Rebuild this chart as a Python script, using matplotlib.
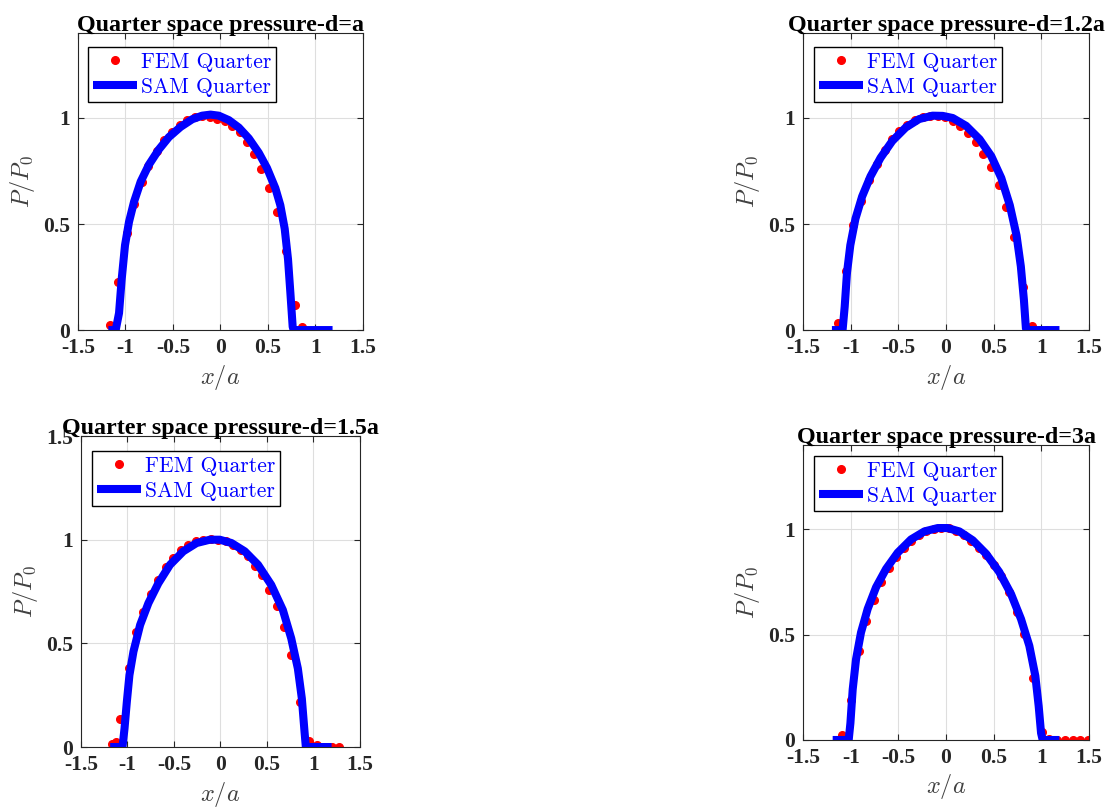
import numpy as np
import matplotlib.pyplot as plt

plt.rcParams['mathtext.fontset'] = 'cm'

titles = ["Quarter space pressure-d=a", "Quarter space pressure-d=1.2a",
          "Quarter space pressure-d=1.5a", "Quarter space pressure-d=3a"]

# FEM points (x/a, P/P0)
fem1_x = [-1.166, -1.075, -0.988, -0.91, -0.83, -0.76, -0.672, -0.595, -0.515, -0.43, -0.35, -0.27,
          -0.193, -0.112, -0.035, 0.046, 0.123, 0.203, 0.28, 0.357, 0.43, 0.508, 0.595, 0.694,
          0.781, 0.858]
fem1_y = [0.024, 0.226, 0.457, 0.594, 0.696, 0.775, 0.844, 0.895, 0.935, 0.968, 0.99, 1.003,
          1.008, 1.003, 0.995, 0.984, 0.963, 0.932, 0.889, 0.828, 0.76, 0.669, 0.557, 0.374,
          0.116, 0.013]

fem2_x = [-1.134, -1.05, -0.975, -0.89, -0.81, -0.729, -0.644, -0.57, -0.489, -0.41, -0.327,
          -0.246, -0.165, -0.088, -0.007, 0.07, 0.151, 0.232, 0.31, 0.391, 0.472, 0.553, 0.634,
          0.711, 0.81, 0.898, 0.986, 1.063]
fem2_y = [0.035, 0.279, 0.494, 0.61, 0.709, 0.785, 0.849, 0.90, 0.94, 0.968, 0.99,
          1.003, 1.011, 1.011, 1.003, 0.987, 0.963, 0.927, 0.889, 0.831, 0.768, 0.685, 0.581,
          0.438, 0.202, 0.019, 0.0, 0.0]

fem3_x = [-1.168, -1.125, -1.079, -0.989, -0.907, -0.829, -0.75, -0.668, -0.589, -0.507, -0.429,
          -0.346, -0.264, -0.186, -0.104, -0.025, 0.057, 0.136, 0.218, 0.296, 0.375, 0.45, 0.521,
          0.604, 0.682, 0.761, 0.857, 0.957, 1.036, 1.118, 1.196, 1.279]
fem3_y = [0.016, 0.024, 0.137, 0.382, 0.553, 0.65, 0.739, 0.806, 0.866, 0.911, 0.948,
          0.976, 0.992, 1.0, 1.003, 1.0, 0.992, 0.976, 0.952, 0.923, 0.874, 0.831, 0.758,
          0.681, 0.581, 0.444, 0.215, 0.029, 0.008, 0.0, 0.0, 0.0]

fem4_x = [-1.091, -0.997, -0.916, -0.839, -0.759, -0.682, -0.601, -0.524, -0.444, -0.367, -0.287,
          -0.21, -0.129, -0.052, 0.028, 0.105, 0.185, 0.262, 0.343, 0.42, 0.50, 0.577, 0.657,
          0.741, 0.821, 0.909, 1.007, 1.084, 1.16, 1.252, 1.33, 1.41, 1.486]
fem4_y = [0.025, 0.192, 0.423, 0.566, 0.666, 0.749, 0.817, 0.868, 0.911, 0.944, 0.975,
          0.992, 1.003, 1.008, 1.006, 0.992, 0.971, 0.943, 0.911, 0.876, 0.831, 0.776, 0.704,
          0.609, 0.502, 0.296, 0.037, 0.005, 0.0, 0.0, 0.0, 0.0, 0.0]

# SAM curves (x/a, P/P0)
sam1_x = [-1.18, -1.103, -1.068, -1.04, -1.005, -0.963, -0.91, -0.84, -0.753, -0.648, -0.543,
          -0.42, -0.298, -0.193, -0.105, -0.018, 0.088, 0.193, 0.298, 0.403, 0.49, 0.578, 0.63,
          0.676, 0.711, 0.736, 0.76, 0.77, 1.18]
sam1_y = [0.0, 0.0, 0.08, 0.24, 0.40, 0.51, 0.605, 0.70, 0.78, 0.852, 0.91,
          0.958, 0.994, 1.011, 1.016, 1.011, 0.99, 0.955, 0.904, 0.836, 0.764, 0.669, 0.589,
          0.478, 0.334, 0.175, 0.016, 0.0, 0.0]

sam2_x = [-1.197, -1.085, -1.063, -1.039, -1.004, -0.95, -0.88, -0.792, -0.687, -0.563, -0.423,
          -0.282, -0.141, -0.035, 0.07, 0.211, 0.352, 0.475, 0.58, 0.669, 0.74, 0.785, 0.817,
          0.838, 0.863, 1.19]
sam2_y = [0.0, 0.0, 0.11, 0.27, 0.40, 0.525, 0.63, 0.725, 0.812, 0.892, 0.955,
          0.995, 1.011, 1.01, 1.0, 0.963, 0.90, 0.82, 0.717, 0.589, 0.446, 0.30, 0.143,
          0.008, 0.0, 0.0]

sam3_x = [-1.186, -1.054, -1.032, -1.007, -0.979, -0.936, -0.864, -0.775, -0.668, -0.543, -0.40,
          -0.257, -0.114, -0.007, 0.118, 0.261, 0.404, 0.546, 0.671, 0.761, 0.832, 0.875, 0.904,
          0.918, 1.195]
sam3_y = [0.0, 0.0, 0.089, 0.218, 0.347, 0.46, 0.589, 0.694, 0.79, 0.879, 0.944,
          0.984, 1.0, 1.0, 0.984, 0.944, 0.879, 0.782, 0.661, 0.524, 0.379, 0.234, 0.073,
          0.0, 0.0]

sam4_x = [-1.189, -1.021, -1.003, -0.979, -0.944, -0.892, -0.822, -0.734, -0.629, -0.507, -0.367,
          -0.227, -0.087, 0.017, 0.14, 0.28, 0.42, 0.559, 0.682, 0.787, 0.874, 0.937, 0.972,
          0.997, 1.014, 1.189]
sam4_y = [0.0, 0.0, 0.08, 0.24, 0.383, 0.51, 0.622, 0.725, 0.812, 0.889, 0.952,
          0.99, 1.006, 1.006, 0.99, 0.948, 0.884, 0.797, 0.693, 0.574, 0.447, 0.304, 0.161,
          0.033, 0.0, 0.0]

fem = [(fem1_x, fem1_y), (fem2_x, fem2_y), (fem3_x, fem3_y), (fem4_x, fem4_y)]
sam = [(sam1_x, sam1_y), (sam2_x, sam2_y), (sam3_x, sam3_y), (sam4_x, sam4_y)]
ytop = [1.4, 1.4, 1.5, 1.4]
yticks = [[0, 0.5, 1], [0, 0.5, 1], [0, 0.5, 1, 1.5], [0, 0.5, 1]]
xticks = [-1.5, -1, -0.5, 0, 0.5, 1, 1.5]
xtick_labels = ['-1.5', '-1', '-0.5', '0', '0.5', '1', '1.5']

# axes boxes [left, bottom, width, height] in figure fraction
boxes = [[0.0702, 0.592, 0.2565, 0.367],
         [0.7228, 0.592, 0.2574, 0.367],
         [0.0729, 0.0766, 0.2511, 0.3844],
         [0.7228, 0.0853, 0.2574, 0.3646]]
leg_anchor = [(0.035, 0.953), (0.038, 0.953), (0.039, 0.952), (0.038, 0.963)]

fig = plt.figure(figsize=(11.11, 8.09), dpi=100)

for i in range(4):
    ax = fig.add_axes(boxes[i])
    ax.plot(fem[i][0], fem[i][1], 'o', color='red', markersize=5.5, label='FEM Quarter', zorder=2)
    ax.plot(sam[i][0], sam[i][1], '-', color='blue', linewidth=5.8, label='SAM Quarter',
            solid_joinstyle='round', solid_capstyle='butt', zorder=3)
    ax.set_xlim(-1.5, 1.5)
    ax.set_ylim(0, ytop[i])
    ax.set_xticks(xticks)
    ax.set_xticklabels(xtick_labels, fontfamily='Liberation Serif', fontweight='bold', fontsize=15.5)
    ax.set_yticks(yticks[i])
    ax.set_yticklabels([('%g' % v) for v in yticks[i]],
                       fontfamily='Liberation Serif', fontweight='bold', fontsize=15.5)
    ax.tick_params(direction='in', top=True, right=True, length=4, width=0.8, colors='#262626')
    ax.tick_params(axis='x', pad=6)
    ax.tick_params(axis='y', pad=6)
    ax.grid(True, color='#dedede', linewidth=0.8)
    ax.set_axisbelow(True)
    for s in ax.spines.values():
        s.set_color('#262626')
        s.set_linewidth(0.8)
    ax.set_xlabel('$x/a$', fontsize=17.5, color='#404040', labelpad=3)
    ax.set_ylabel('$P/P_0$', fontsize=17.5, color='#404040', labelpad=4)
    ax.set_title(titles[i], fontfamily='Liberation Serif', fontweight='bold', fontsize=17.3, pad=1.5)
    leg = ax.legend(loc='upper left', bbox_to_anchor=leg_anchor[i], fancybox=False,
                    framealpha=1, edgecolor='black', borderpad=0.25, handlelength=2.05,
                    handletextpad=0.15, labelspacing=0.25, borderaxespad=0,
                    prop={'family': 'cmr10', 'size': 15.5})
    leg.get_frame().set_linewidth(1.0)
    for t in leg.get_texts():
        t.set_color('blue')

plt.savefig('out.png', dpi=100)
